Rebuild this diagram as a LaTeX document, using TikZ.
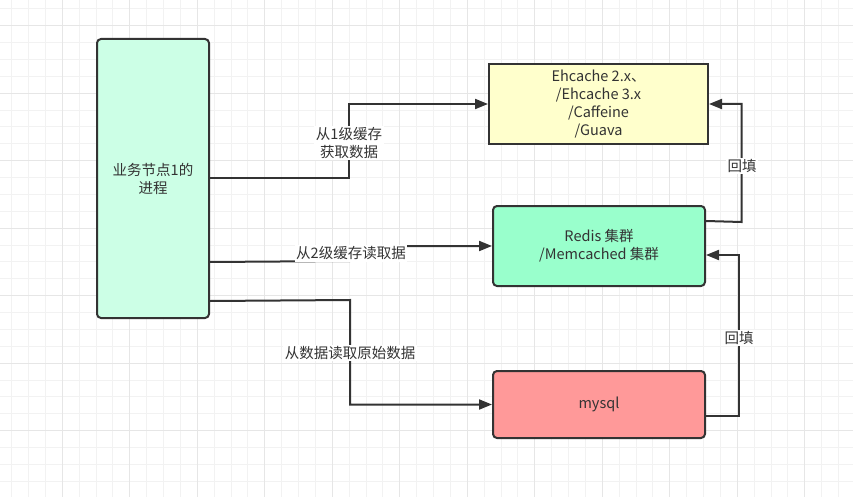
\documentclass[tikz,border=0pt]{standalone}
\usepackage{fontspec}
\setmainfont{Noto Sans CJK SC}
\usetikzlibrary{arrows.meta,calc}
\definecolor{ink}{HTML}{333333}
\definecolor{gridminor}{HTML}{F2F2F2}
\definecolor{gridmajor}{HTML}{E6E6E6}
\definecolor{procfill}{HTML}{CCFFE6}
\definecolor{lonefill}{HTML}{FFFFCC}
\definecolor{ltwofill}{HTML}{99FFCC}
\definecolor{dbfill}{HTML}{FF9999}
\tikzset{
  box/.style={draw=ink, line width=2pt, text=ink, align=center, inner sep=2pt,
    font=\fontsize{14.5}{18}\selectfont},
  rbox/.style={box, rounded corners=4pt},
  conn/.style={draw=ink, line width=2pt, -{Triangle[length=13pt,width=10pt]}},
  plain/.style={draw=ink, line width=2pt},
  lbl/.style={fill=white, text=ink, align=center, inner sep=1.5pt,
    font=\fontsize{14.5}{18}\selectfont}
}
\begin{document}
\begin{tikzpicture}[x=1pt,y=-1pt]
\useasboundingbox (0,0) rectangle (853,497);
\fill[white] (0,0) rectangle (853,497);
% grid
\foreach \i in {0,...,50} {
  \pgfmathsetmacro{\xx}{11.7+16.875*\i}
  \draw[gridminor, line width=1pt] (\xx,0) -- (\xx,497);
}
\foreach \i in {0,...,29} {
  \pgfmathsetmacro{\yy}{8.8+16.875*\i}
  \draw[gridminor, line width=1pt] (0,\yy) -- (853,\yy);
}
\foreach \i in {0,...,12} {
  \pgfmathsetmacro{\xx}{62.3+67.5*\i}
  \draw[gridmajor, line width=1pt] (\xx,0) -- (\xx,497);
}
\foreach \i in {0,...,7} {
  \pgfmathsetmacro{\yy}{25.7+67.5*\i}
  \draw[gridmajor, line width=1pt] (0,\yy) -- (853,\yy);
}
% nodes
\node[rbox, fill=procfill, minimum width=112pt, minimum height=279pt] (proc) at (153,178.5) {业务节点1的\\进程};
\node[box, fill=lonefill, minimum width=219pt, minimum height=80pt] (lone) at (598.5,104) {Ehcache 2.x、\\/Ehcache 3.x\\/Caffeine\\/Guava};
\node[rbox, fill=ltwofill, minimum width=212pt, minimum height=80pt] (ltwo) at (599,246) {Redis 集群\\/Memcached 集群};
\node[rbox, fill=dbfill, minimum width=212pt, minimum height=67pt] (db) at (599,404.5) {mysql};
% connectors
\coordinate (p1) at (proc.east);
\coordinate (p2) at ([yshift=57pt]proc.south east);
\coordinate (p3) at ([yshift=18pt]proc.south east);
\coordinate (b1) at ([yshift=-16pt]ltwo.north east);
\coordinate (b2) at ([yshift=-11.5pt]db.east);
\coordinate (b2end) at ([yshift=-9pt]ltwo.east);
\draw[conn] (p1) -- (349,178.5) |- (lone.west);
\draw[conn] (p2) -- (350,261) |- (ltwo.west);
\draw[conn] (p3) -- (350,300) |- (db.west);
\draw[conn] (b1) -- (741.5,222) |- (lone.east);
\draw[conn] (b2) -- (739,416) |- (b2end);
% labels
\node[lbl] (t1) at (349,143) {从1级缓存\\获取数据};
\node[lbl] (t2) at (351,253.5) {从2级缓存读取据};
\node[lbl] (t3) at (350,353) {从数据读取原始数据};
\node[lbl] (t4) at (742,166) {回填};
\node[lbl] (t5) at (739,338) {回填};
\end{tikzpicture}
\end{document}
